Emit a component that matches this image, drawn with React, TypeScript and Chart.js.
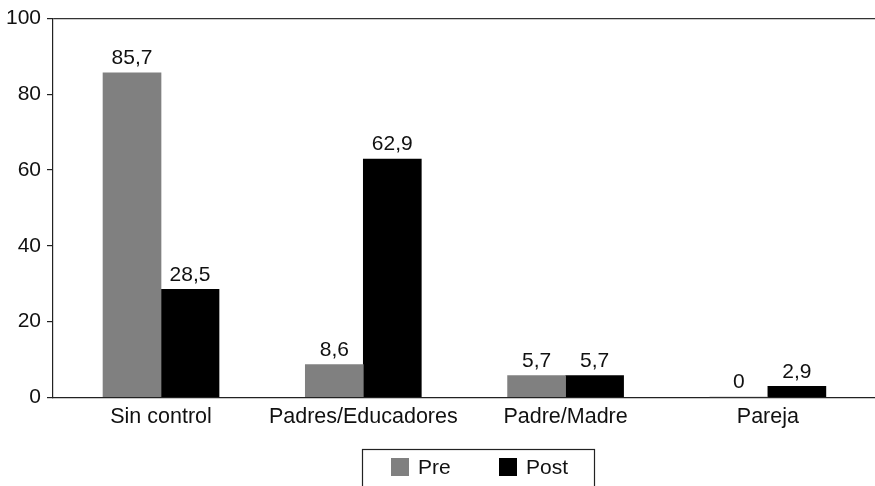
import React, { useEffect, useRef } from "react";
import { Chart, registerables } from "chart.js";

Chart.register(...registerables);

const categories = ["Sin control", "Padres/Educadores", "Padre/Madre", "Pareja"];
const preValues = [85.7, 8.6, 5.7, 0];
const postValues = [28.5, 62.9, 5.7, 2.9];
const yTicks = [0, 20, 40, 60, 80, 100];
const seriesNames = ["Pre", "Post"];
const seriesColors = ["#808080", "#000000"];

const FONT = "'Liberation Sans', Arial, Helvetica, sans-serif";

const valueLabelPlugin = {
  id: "valueLabels",
  afterDatasetsDraw(chart: any) {
    const ctx = chart.ctx;
    ctx.save();
    ctx.font = `21px ${FONT}`;
    ctx.fillStyle = "#111";
    ctx.textAlign = "center";
    ctx.textBaseline = "bottom";
    chart.data.datasets.forEach((ds: any, di: number) => {
      const meta = chart.getDatasetMeta(di);
      meta.data.forEach((el: any, i: number) => {
        const v = ds.data[i].y;
        const txt = String(v).replace(".", ",");
        ctx.fillText(txt, el.x, el.y - 4);
      });
    });
    ctx.restore();
  },
};

const boxLegendPlugin = {
  id: "boxLegend",
  afterDraw(chart: any) {
    const ctx = chart.ctx;
    ctx.save();
    const left = 362, top = 449, w = 232, h = 44;
    ctx.strokeStyle = "#222";
    ctx.lineWidth = 1.2;
    ctx.strokeRect(left + 0.5, top + 0.5, w, h);
    ctx.font = `21px ${FONT}`;
    ctx.textBaseline = "middle";
    ctx.textAlign = "left";
    const itemX = [391, 499];
    chart.data.datasets.forEach((ds: any, i: number) => {
      ctx.fillStyle = ds.backgroundColor;
      ctx.fillRect(itemX[i], 458, 18, 18);
      ctx.fillStyle = "#111";
      ctx.fillText(ds.label, itemX[i] + 27, 468);
    });
    ctx.restore();
  },
};

export default function App() {
  const ref = useRef<HTMLCanvasElement | null>(null);

  useEffect(() => {
    if (!ref.current) return;
    const toPoints = (arr: number[]) => arr.map((y, x) => ({ x, y }));
    const chart = new Chart(ref.current, {
      type: "bar",
      data: {
        datasets: [
          {
            label: seriesNames[0],
            data: toPoints(preValues) as any,
            backgroundColor: seriesColors[0],
            barThickness: 58,
          },
          {
            label: seriesNames[1],
            data: toPoints(postValues) as any,
            backgroundColor: seriesColors[1],
            barThickness: 58,
          },
        ],
      },
      options: {
        animation: false,
        responsive: false,
        maintainAspectRatio: false,
        layout: { padding: { top: 15.5, right: 0, left: 0, bottom: 49 } },
        plugins: {
          legend: { display: false },
          tooltip: { enabled: false },
        },
        scales: {
          x: {
            type: "linear",
            offset: false,
            bounds: "data",
            min: -0.534,
            max: 3.579,
            afterBuildTicks: (scale: any) => {
              scale.ticks = categories.map((_, i) => ({ value: i }));
            },
            ticks: {
              autoSkip: false,
              maxRotation: 0,
              padding: 7,
              color: "#111",
              font: { family: FONT, size: 21.5 },
              callback: (v: any) => categories[v] ?? "",
            },
            grid: { display: false, drawTicks: false, offset: false },
            border: { display: true, color: "#222", width: 1.2 },
          },
          y: {
            min: 0,
            max: 100,
            afterBuildTicks: (scale: any) => {
              scale.ticks = yTicks.map((v) => ({ value: v }));
            },
            afterFit: (scale: any) => {
              scale.width = 53;
            },
            ticks: {
              padding: 6,
              color: "#111",
              font: { family: FONT, size: 21 },
            },
            grid: {
              drawOnChartArea: true,
              color: (c: any) => (c.tick && c.tick.value === 100 ? "#333" : "rgba(0,0,0,0)"),
              lineWidth: 1.2,
              tickColor: "#222",
              tickLength: 6,
            },
            border: { display: true, color: "#222", width: 1.2 },
          },
        },
      },
      plugins: [valueLabelPlugin, boxLegendPlugin],
    });
    return () => chart.destroy();
  }, []);

  return (
    <div
      style={{
        position: "fixed",
        left: 0,
        top: 0,
        width: 875,
        height: 486,
        overflow: "hidden",
        background: "#fff",
      }}
    >
      <canvas ref={ref} width={885} height={486} style={{ display: "block" }} />
    </div>
  );
}
